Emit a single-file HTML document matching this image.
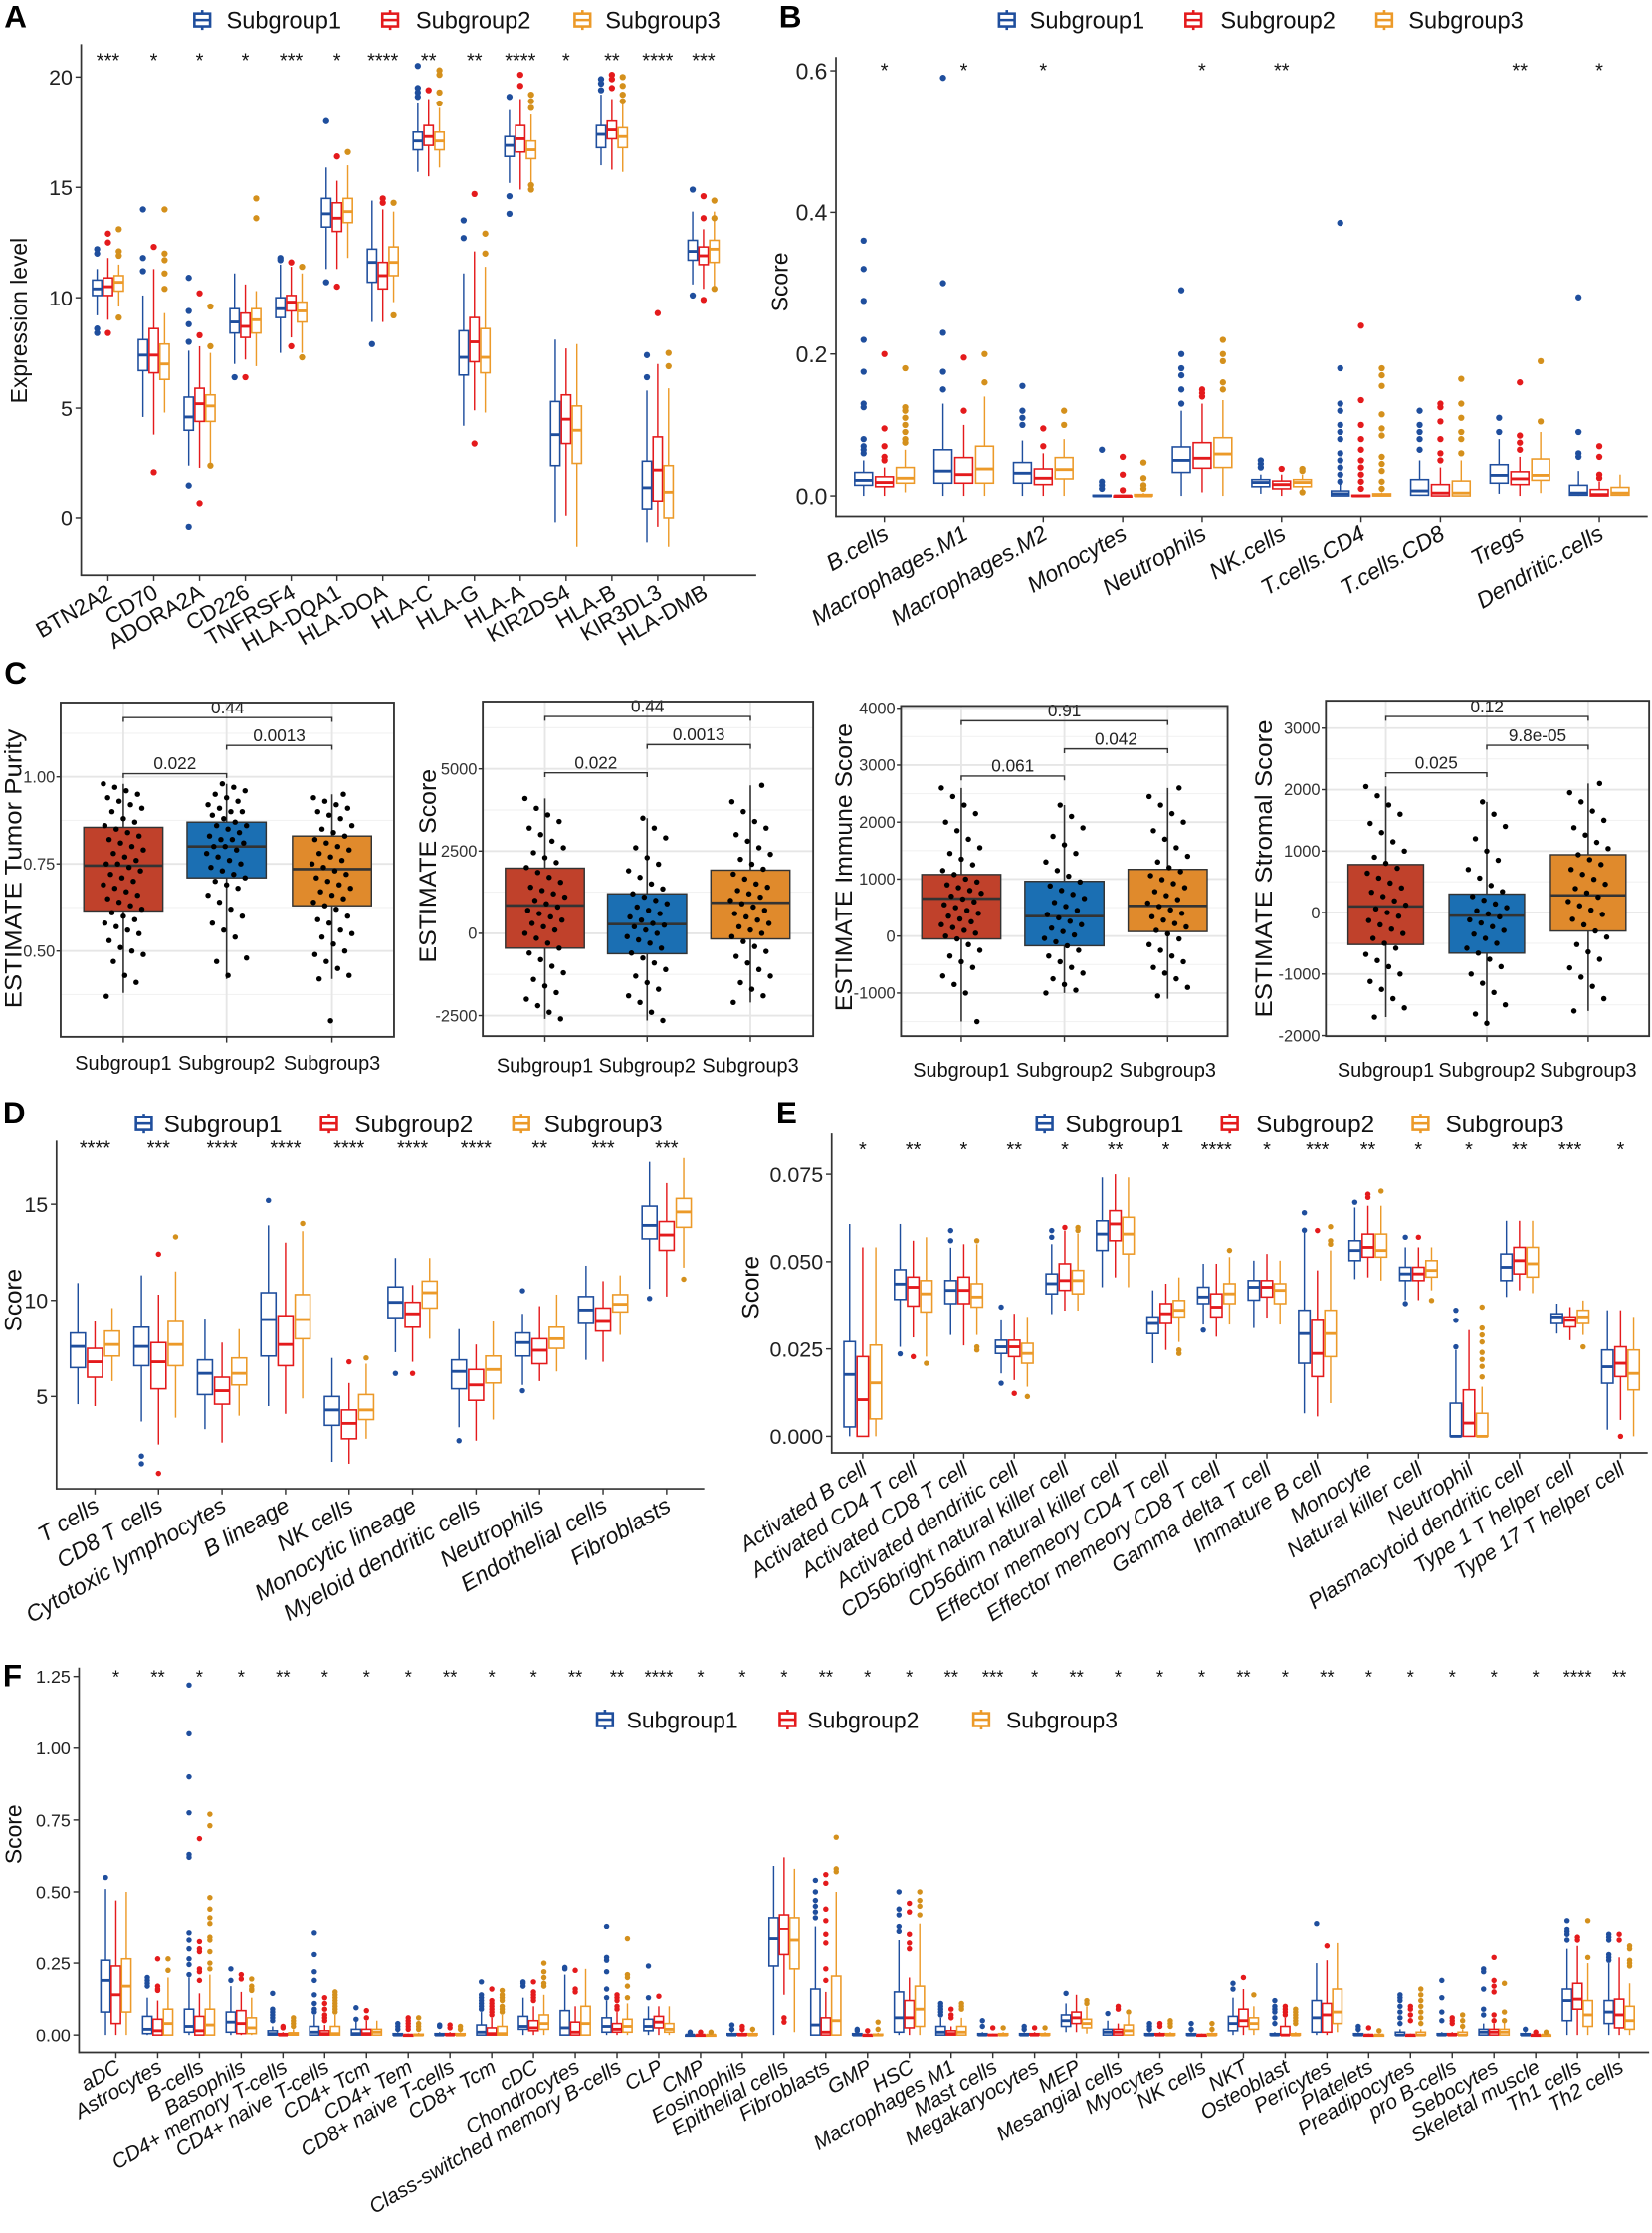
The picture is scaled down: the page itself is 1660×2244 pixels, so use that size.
<!DOCTYPE html>
<html><head><meta charset="utf-8"><title>Immune landscape of subgroups</title>
<style>
html,body{margin:0;padding:0;background:#fff;}
svg{display:block;}
text{font-family:"Liberation Sans",Arial,sans-serif;}
</style></head>
<body>
<svg id="fig" xmlns="http://www.w3.org/2000/svg" width="1660" height="2244" viewBox="0 0 1160 1568">
<rect x="0" y="0" width="1160" height="1568" fill="#fff"/>
<g font-weight="bold" font-size="22">
<text x="3" y="19">A</text>
<text x="547" y="19">B</text>
<text x="3" y="480">C</text>
<text x="2" y="789">D</text>
<text x="545" y="789">E</text>
<text x="2" y="1184">F</text>
</g>
</svg>
<script>
// ---------------- Panel A data ----------------
const A_cats=['BTN2A2','CD70','ADORA2A','CD226','TNFRSF4','HLA-DQA1','HLA-DOA','HLA-C','HLA-G','HLA-A','KIR2DS4','HLA-B','KIR3DL3','HLA-DMB'];
const A_stars=['***','*','*','*','***','*','****','**','**','****','*','**','****','***'];
const A_ticks=[0,5,10,15,20];
const A_sg1=[[9.2,10.1,10.4,10.8,11.3],[4.6,6.7,7.4,8.1,10.1],[2.4,4.0,4.6,5.5,7.6],[7.0,8.4,8.9,9.5,11.1],[7.5,9.1,9.5,10.0,11.5],[11.3,13.2,13.8,14.5,15.9],[8.9,10.7,11.6,12.2,14.4],[15.7,16.7,17.1,17.5,18.8],[4.2,6.5,7.3,8.5,11.1],[15.2,16.4,16.9,17.3,18.5],[-0.2,2.4,3.8,5.3,8.1],[16.0,16.8,17.4,17.8,19.2],[-1.1,0.4,1.4,2.6,5.8],[10.6,11.7,12.1,12.6,13.9]];
const A_out1=[[12.2,12.0,8.6,8.4],[14,11.8,11.2],[10.9,9.4,8.8,8.0,1.5,-0.4],[6.4],[11.8,11.7],[18.0,10.7],[7.9],[20.5,19.5,19.3,19.1],[13.5,12.7],[19.1,14.6,13.8],[],[19.9,19.7,19.4],[7.4,6.4],[14.9,10.1]];
const A_sg2=[[9.0,10.1,10.5,10.9,11.8],[3.8,6.6,7.4,8.6,11.3],[2.3,4.4,5.2,5.9,7.8],[7.2,8.2,8.7,9.3,10.6],[8.2,9.4,9.8,10.1,11.4],[11.3,13.0,13.6,14.3,15.3],[8.9,10.4,11.0,11.6,14.0],[15.5,16.9,17.3,17.8,19.0],[4.9,7.1,8.0,9.1,12.1],[14.9,16.6,17.2,17.8,19.0],[0.1,3.4,4.5,5.6,7.7],[15.8,17.2,17.6,18.0,19.0],[-0.4,0.8,2.2,3.7,7.0],[10.4,11.5,11.9,12.3,13.1]];
const A_out2=[[12.9,12.5,8.4],[12.3,2.1],[10.2,8.3,0.7],[6.4],[11.6,7.8],[16.4,10.5],[14.5,14.3],[19.4],[14.7,3.4],[20.1,19.6],[],[20.1,19.9,19.5],[9.3],[14.6,13.6,9.9]];
const A_sg3=[[9.6,10.3,10.7,11.0,11.5],[4.8,6.3,7.0,7.9,9.3],[2.4,4.4,5.1,5.6,7.5],[6.9,8.4,9.0,9.5,10.3],[7.5,8.9,9.4,9.8,11.1],[11.8,13.4,13.9,14.5,16.0],[9.8,11.0,11.6,12.3,13.9],[15.9,16.7,17.1,17.5,18.6],[4.8,6.6,7.3,8.6,11.4],[15.2,16.3,16.7,17.1,18.3],[-1.3,2.5,4.0,5.1,7.9],[15.7,16.8,17.3,17.7,18.9],[-1.3,0.0,1.2,2.4,5.9],[10.4,11.6,12.2,12.6,13.9]];
const A_out3=[[13.1,12.1,11.9,9.1],[14,12,11.7,11.1,10.4],[9.6,7.8,2.4],[14.5,13.6],[11.4,7.3],[16.6],[14.3,9.2],[20.3,20.1,19.3,18.8],[12.9,12.0],[19.2,18.9,18.6,15.1,14.9],[],[20.0,19.6,19.2,18.9],[7.5,6.9],[14.4,13.6,10.4]];

// ---------------- Panel B data ----------------
const B_cats=['B.cells','Macrophages.M1','Macrophages.M2','Monocytes','Neutrophils','NK.cells','T.cells.CD4','T.cells.CD8','Tregs','Dendritic.cells'];
const B_stars=['*','*','*','','*','**','','','**','*'];
const B_ticks=[0,0.2,0.4,0.6];
const B_sg1=[[0,.015,.022,.033,.05],[0,.018,.035,.065,.13],[0,.018,.032,.047,.078],[0,0,0,.001,.002],[0,.033,.05,.069,.12],[.003,.013,.019,.023,.03],[0,0,.003,.007,.018],[0,.001,.007,.023,.05],[.003,.018,.029,.044,.08],[0,.001,.004,.015,.035]];
const B_out1=[[.36,.32,.275,.22,.175,.13,.125,.08,.07,.065,.06],[.59,.3,.23,.175,.15],[.155,.12,.11,.1],[.065,.02,.015,.01],[.29,.2,.18,.17,.15,.13],[.05,.045,.04],[.385,.18,.13,.12,.1,.09,.08,.06,.05,.04,.03,.02],[.12,.1,.09,.08,.065],[.11,.09],[.28,.09,.06,.055]];
const B_sg2=[[0,.013,.019,.027,.04],[0,.018,.03,.054,.1],[0,.016,.025,.038,.06],[0,0,0,0,0],[.005,.039,.053,.075,.13],[0,.01,.016,.021,.03],[0,0,0,.001,.002],[0,0,.004,.016,.04],[0,.016,.024,.034,.055],[0,0,.002,.009,.02]];
const B_out2=[[.2,.095,.07,.055,.05],[.195,.12],[.095,.07],[.055,.03,.008],[.15,.145,.14],[.038],[.24,.135,.1,.08,.065,.05,.04,.03,.02,.01],[.13,.125,.105,.08,.06,.05],[.16,.085,.075,.065],[.07,.055,.03,.025]];
const B_sg3=[[.005,.018,.025,.04,.065],[0,.018,.038,.07,.14],[0,.024,.037,.054,.08],[0,0,0,.002,.004],[0,.04,.059,.082,.135],[.003,.013,.019,.023,.03],[0,0,.001,.003,.005],[0,0,.004,.021,.05],[.004,.022,.029,.052,.09],[0,.001,.004,.012,.03]];
const B_out3=[[.18,.125,.12,.11,.1,.09,.08,.075],[.2,.16],[.12,.1],[.047,.025,.015,.01],[.22,.2,.19,.16,.15],[.038,.035,.005],[.18,.17,.155,.115,.095,.085,.055,.045,.035,.02,.01],[.165,.13,.11,.09,.08,.06],[.19,.105],[]];

// ---------------- Panel C data ----------------
const C_groups=['Subgroup1','Subgroup2','Subgroup3'];
const C1_stats=[[.38,.615,.745,.855,.98],[.42,.71,.80,.87,.98],[.42,.63,.735,.83,.95]];
const C1_pts1=[.98,.97,.96,.95,.94,.93,.92,.91,.9,.88,.87,.86,.85,.84,.83,.82,.81,.8,.79,.78,.77,.76,.75,.75,.74,.73,.72,.71,.7,.69,.68,.67,.66,.65,.64,.63,.62,.61,.6,.59,.58,.57,.56,.55,.53,.51,.5,.49,.47,.43,.41,.37];
const C1_pts2=[.98,.97,.96,.95,.94,.93,.92,.91,.9,.9,.89,.88,.87,.86,.86,.85,.84,.83,.82,.82,.81,.8,.8,.79,.78,.77,.76,.75,.74,.73,.72,.71,.7,.69,.68,.66,.64,.62,.6,.58,.56,.54,.48,.47,.43];
const C1_pts3=[.95,.94,.93,.92,.91,.9,.89,.88,.86,.85,.84,.83,.82,.81,.8,.79,.78,.77,.76,.75,.74,.73,.72,.71,.7,.69,.68,.67,.66,.65,.64,.63,.62,.6,.59,.58,.56,.55,.54,.52,.5,.49,.47,.45,.43,.42,.30];
const C2_stats=[[-2600,-450,847,1980,4100],[-2650,-620,280,1200,3500],[-2100,-170,930,1920,4500]];
const C2_pts1=[4100,3800,3600,3400,3200,3000,2800,2600,2450,2300,2150,2000,1850,1700,1550,1400,1300,1200,1100,1000,900,800,700,600,500,400,300,200,100,0,-150,-300,-450,-600,-800,-1000,-1200,-1400,-1600,-1800,-2000,-2200,-2400,-2600];
const C2_pts2=[3500,3200,2900,2600,2300,2100,1900,1700,1500,1350,1200,1100,1000,900,800,700,600,500,400,300,250,200,100,0,-100,-200,-300,-450,-600,-750,-900,-1100,-1300,-1500,-1700,-1900,-2100,-2400,-2650];
const C2_pts3=[4500,4000,3700,3400,3200,3000,2800,2600,2400,2250,2100,1950,1800,1650,1500,1400,1300,1200,1100,1000,900,800,700,600,500,400,300,200,100,0,-100,-250,-400,-550,-700,-900,-1100,-1300,-1500,-1700,-1900,-2100];
const C3_stats=[[-1500,-50,657,1080,2600],[-1000,-170,350,960,2300],[-1100,80,530,1170,2600]];
const C3_pts1=[2600,2450,2300,2150,2000,1850,1700,1550,1450,1350,1250,1150,1080,1000,950,900,850,800,750,700,650,600,550,500,450,400,350,300,250,200,150,100,50,0,-50,-150,-250,-350,-450,-550,-700,-850,-1000,-1500];
const C3_pts2=[2300,2100,1900,1750,1600,1450,1300,1150,1050,950,880,800,730,660,590,520,450,380,320,260,200,140,80,20,-40,-100,-170,-250,-350,-450,-550,-650,-750,-850,-950,-1000];
const C3_pts3=[2600,2450,2300,2150,2000,1850,1700,1550,1400,1300,1200,1130,1060,990,920,850,780,710,640,580,520,460,400,340,280,220,160,100,40,-50,-150,-250,-350,-450,-550,-650,-750,-900,-1050];
const C4_stats=[[-1700,-520,100,780,2050],[-1800,-660,-50,300,1800],[-1600,-300,280,940,2100]];
const C4_pts1=[2050,1900,1750,1600,1450,1300,1150,1000,900,800,720,640,560,480,400,330,260,190,120,60,0,-60,-130,-200,-270,-340,-420,-500,-580,-680,-780,-880,-1000,-1120,-1250,-1400,-1550,-1700];
const C4_pts2=[1800,1600,1400,1200,1000,850,700,560,440,340,260,200,140,80,30,-20,-70,-120,-170,-230,-290,-350,-420,-500,-580,-660,-760,-880,-1000,-1150,-1300,-1500,-1650,-1800];
const C4_pts3=[2100,1950,1800,1650,1500,1380,1260,1140,1040,940,860,780,700,620,540,460,390,320,250,180,110,40,-30,-110,-200,-300,-400,-520,-640,-760,-900,-1050,-1200,-1400,-1600];

// ---------------- Panel D data ----------------
const D_cats=['T cells','CD8 T cells','Cytotoxic lymphocytes','B lineage','NK cells','Monocytic lineage','Myeloid dendritic cells','Neutrophils','Endothelial cells','Fibroblasts'];
const D_stars=['****','***','****','****','****','****','****','**','***','***'];
const D_ticks=[5,10,15];
const D_sg1=[[4.6,6.5,7.6,8.3,10.9],[3.7,6.6,7.6,8.6,11.3],[3.3,5.1,6.2,6.9,9.0],[4.5,7.1,9.0,10.4,13.9],[1.6,3.5,4.3,5.0,7.0],[7.3,9.1,9.9,10.7,12.2],[3.4,5.4,6.3,6.9,8.5],[5.6,7.1,7.8,8.3,9.3],[6.9,8.8,9.5,10.2,11.8],[10.6,13.2,13.9,14.9,17.2]];
const D_out1=[[],[1.9,1.5],[],[15.2],[],[6.2],[2.7],[10.5,5.3],[],[10.1]];
const D_sg2=[[4.5,6.0,6.8,7.5,8.9],[2.5,5.4,6.8,7.8,10.3],[2.6,4.6,5.3,6.0,7.8],[4.1,6.6,7.7,9.2,13.0],[1.5,2.8,3.6,4.3,5.7],[6.8,8.6,9.3,9.9,10.8],[2.7,4.8,5.6,6.4,7.7],[5.8,6.7,7.4,8.0,9.7],[6.8,8.4,8.9,9.6,11.0],[10.2,12.6,13.4,14.1,16.1]];
const D_out2=[[],[12.4,1.0],[],[],[6.8],[6.2],[],[],[],[]];
const D_sg3=[[5.8,7.1,7.7,8.4,9.6],[3.9,6.6,7.7,8.9,11.5],[4.0,5.6,6.2,7.0,8.5],[4.9,8.0,9.0,10.3,13.6],[2.8,3.8,4.3,5.1,6.7],[8.0,9.6,10.4,11.0,12.2],[3.8,5.7,6.4,7.1,8.9],[6.3,7.5,8.0,8.6,10.3],[8.2,9.4,9.8,10.3,11.3],[11.7,13.8,14.6,15.3,17.4]];
const D_out3=[[],[13.3],[],[14.0],[7.0],[],[],[],[],[11.1]];

// ---------------- Panel E data ----------------
const E_cats=['Activated B cell','Activated CD4 T cell','Activated CD8 T cell','Activated dendritic cell','CD56bright natural killer cell','CD56dim natural killer cell','Effector memeory CD4 T cell','Effector memeory CD8 T cell','Gamma delta T cell','Immature  B cell','Monocyte','Natural killer cell','Neutrophil','Plasmacytoid dendritic cell','Type 1 T helper cell','Type 17 T helper cell'];
const E_stars=['*','**','*','**','*','**','*','****','*','***','**','*','*','**','***','*'];
const E_ticks=[0,0.025,0.05,0.075];
const E_sg1=[[0,.0027,.0177,.0271,.0608],[.0256,.0392,.0436,.0477,.0608],[.029,.038,.0418,.0446,.054],[.018,.0237,.0256,.0275,.0332],[.035,.0408,.0437,.0465,.055],[.0427,.0532,.0579,.0617,.0741],[.0209,.0294,.0323,.0342,.0418],[.032,.038,.0399,.0427,.0494],[.031,.039,.0427,.0446,.0503],[.0066,.0209,.0294,.0361,.059],[.045,.0503,.0532,.056,.0655],[.039,.0446,.0465,.0484,.0541],[0,0,0,.0095,.0247],[.0399,.0446,.0484,.0522,.0617],[.0294,.0323,.0342,.0351,.038],[.0019,.0152,.0199,.0247,.0361]];
const E_out1=[[],[.0236],[.0589,.056],[.037,.0152],[.0589,.057],[],[],[.0304],[],[.064,.059],[.067],[.057,.038],[.0361,.0332,.0256],[],[],[]];
const E_sg2=[[0,0,.0105,.0228,.0541],[.0283,.0373,.0427,.0456,.056],[.026,.038,.0418,.0456,.055],[.0161,.0228,.0256,.0275,.0351],[.036,.0418,.0446,.0494,.0589],[.0455,.056,.0608,.0646,.075],[.0247,.0323,.0351,.038,.0437],[.0285,.0342,.037,.0408,.0494],[.034,.0399,.0427,.0446,.0522],[.0057,.0171,.0237,.0332,.0475],[.0455,.0513,.0541,.0579,.066],[.039,.0446,.0465,.0484,.0541],[0,0,.0038,.0133,.0304],[.0418,.0465,.0503,.0541,.0617],[.0275,.0313,.0332,.0342,.037],[.0047,.0171,.0209,.0256,.0361]];
const E_out2=[[],[.0228],[],[.0123],[.0598],[],[],[],[],[.0589],[.0693,.0684],[.057],[],[],[],[0]];
const E_sg3=[[0,.005,.0153,.0261,.0541],[.0228,.0356,.0408,.0446,.057],[.029,.037,.0399,.0437,.055],[.0142,.0209,.0237,.0266,.0342],[.036,.0408,.0446,.0475,.058],[.0427,.0522,.0579,.0627,.0741],[.027,.0342,.0361,.0389,.0455],[.032,.038,.0408,.0437,.0513],[.032,.038,.0418,.0437,.0503],[.0095,.0228,.0294,.0361,.0532],[.0446,.0513,.0532,.0579,.066],[.0418,.0456,.0475,.0503,.0541],[0,0,0,.0066,.0142],[.041,.0456,.0494,.0541,.0617],[.029,.0323,.0342,.0361,.0389],[0,.0133,.018,.0247,.0342]];
const E_out3=[[],[.0209],[.056,.0256,.0247],[.0114],[.0598,.0589],[],[.0247,.0237],[.0532],[],[.06,.056,.055],[.0702],[.0389],[.037,.031,.029,.027,.024,.022,.02,.017],[],[.0256],[]];

// ---------------- Panel F data ----------------
const F_cats=['aDC','Astrocytes','B-cells','Basophils','CD4+ memory T-cells','CD4+ naive T-cells','CD4+ Tcm','CD4+ Tem','CD8+ naive T-cells','CD8+ Tcm','cDC','Chondrocytes','Class-switched memory B-cells','CLP','CMP','Eosinophils','Epithelial cells','Fibroblasts','GMP','HSC','Macrophages M1','Mast cells','Megakaryocytes','MEP','Mesangial cells','Myocytes','NK cells','NKT','Osteoblast','Pericytes','Platelets','Preadipocytes','pro B-cells','Sebocytes','Skeletal muscle','Th1 cells','Th2 cells'];
const F_stars=['*','**','*','*','**','*','*','*','**','*','*','**','**','****','*','*','*','**','*','*','**','***','*','**','*','*','*','**','*','**','*','*','*','*','*','****','**'];
const F_ticks=[0,0.25,0.5,0.75,1.0,1.25];
const F_sg1=[[0,.08,.19,.26,.51],[0,.005,.02,.065,.13],[0,.01,.03,.09,.2],[0,.01,.045,.08,.17],[0,0,.005,.015,.03],[0,0,.01,.03,.07],[0,0,.005,.02,.05],[0,0,0,.005,.01],[0,0,0,.005,.01],[0,0,.01,.035,.08],[0,.02,.03,.065,.13],[0,0,.025,.085,.21],[0,.01,.03,.06,.12],[0,.015,.03,.055,.1],[0,0,0,0,0],[0,0,0,.005,.01],[0,.24,.335,.41,.59],[0,0,.035,.16,.38],[0,0,0,.005,.01],[0,.01,.06,.15,.33],[0,0,.01,.03,.06],[0,0,0,.005,.01],[0,0,0,.005,.01],[.01,.03,.05,.07,.11],[0,0,.01,.02,.05],[0,0,0,.005,.01],[0,0,0,.005,.01],[0,.015,.04,.065,.13],[0,0,0,.005,.01],[0,.01,.06,.12,.25],[0,0,0,.005,.01],[0,0,0,.01,.02],[0,0,0,.005,.01],[0,0,.01,.02,.04],[0,0,0,.005,.01],[0,.05,.12,.16,.3],[0,.04,.08,.12,.25]];
const F_out1=[[.55],[.2,.19,.18,.17],[1.22,1.05,.9,.775,.63,.62,.355,.33,.3,.265,.245,.21],[.23,.19],[.145,.09,.08,.07,.06,.05],[.355,.28,.22,.19,.14,.11,.09,.08],[.095,.055],[.04,.03,.02],[.035,.03],[.185,.14,.13,.12,.11,.1,.09],[.185,.18,.17],[.235,.23],[.38,.27,.26,.22,.16,.13],[.24,.13],[.01,.005],[.035,.02],[],[.54,.5,.47,.45,.43,.41],[.02,.015],[.5,.44,.42,.38,.36],[.11,.1,.09,.08,.07],[.05,.03],[.03,.02],[.145],[.075],[.04,.03,.02],[.04,.02],[.18,.16],[.12,.1,.09,.08,.06,.04],[.39],[.03,.02],[.14,.13,.12,.1,.08,.06,.04],[.19,.13,.08,.05],[.23,.22,.16,.09,.07],[.02],[.4,.37,.36,.35,.33],[.35,.34,.33,.28,.27,.26]];
const F_sg2=[[0,.04,.14,.24,.47],[0,0,.015,.055,.12],[0,0,.015,.065,.145],[0,.005,.04,.085,.15],[0,0,0,.005,.01],[0,0,.005,.015,.035],[0,0,.005,.02,.05],[0,0,0,0,.005],[0,0,0,.005,.01],[0,0,.005,.025,.06],[0,.015,.025,.05,.1],[0,0,.01,.045,.1],[0,.01,.02,.04,.08],[0,.025,.045,.065,.1],[0,0,0,0,0],[0,0,0,.005,.01],[.14,.28,.37,.42,.62],[0,0,.01,.06,.15],[0,0,0,0,.005],[0,.025,.06,.12,.2],[0,0,.005,.015,.03],[0,0,0,.002,.005],[0,0,0,.005,.01],[.01,.04,.06,.08,.14],[0,0,.01,.02,.04],[0,0,0,.005,.01],[0,0,0,0,.005],[0,.03,.05,.09,.16],[0,0,0,.03,.06],[0,.01,.07,.11,.26],[0,0,0,0,.005],[0,0,0,0,.005],[0,0,0,.005,.01],[0,0,.01,.02,.04],[0,0,0,0,.005],[0,.09,.125,.18,.31],[0,.025,.07,.125,.27]];
const F_out2=[[],[.265,.17,.16,.155],[.685,.325,.3,.29,.23,.22,.19],[.21,.195],[.03,.025],[.13,.11,.09,.07,.06,.05],[.085,.06],[.06,.05,.04,.03,.02],[.035,.025],[.16,.12,.11,.1,.09,.08,.07],[.185,.15,.14,.13,.12],[.225,.16,.15],[.14,.13,.12,.1,.09],[.135],[.01],[.03,.02],[.06,.045],[.56,.53,.44,.4,.35,.32,.23,.19],[.015],[.46,.43,.35,.32,.3],[.09,.07,.06],[.025],[.025],[],[.1,.09],[.04,.03],[],[.2],[.1,.09,.08,.07],[.31],[.025],[.1,.09,.07,.05],[.06,.05,.04],[.27,.19,.17,.15,.07,.05],[.01],[.34,.33],[.35,.33]];
const F_sg3=[[0,.08,.17,.265,.5],[0,0,.04,.09,.2],[0,0,.035,.09,.21],[0,.005,.025,.06,.13],[0,0,.002,.008,.02],[0,0,.005,.03,.07],[0,0,.01,.02,.05],[0,0,0,.003,.008],[0,0,0,.005,.01],[0,0,.005,.03,.07],[0,.02,.04,.07,.14],[0,0,.04,.1,.23],[0,.01,.03,.055,.11],[0,.01,.02,.04,.1],[0,0,0,0,0],[0,0,0,.005,.01],[.01,.23,.33,.41,.58],[0,0,.05,.205,.5],[0,0,0,.003,.008],[0,.03,.09,.17,.39],[0,0,.01,.03,.06],[0,0,0,.005,.01],[0,0,0,.005,.01],[.005,.025,.04,.055,.1],[0,0,.015,.035,.07],[0,0,0,.005,.01],[0,0,0,.005,.01],[0,.02,.04,.06,.1],[0,0,0,.005,.01],[.01,.04,.08,.16,.32],[0,0,0,0,.005],[0,0,0,.01,.02],[0,0,0,.01,.02],[0,0,.01,.02,.05],[0,0,0,0,.005],[0,.03,.07,.12,.25],[0,.02,.05,.1,.18]];
const F_out3=[[],[.265,.225],[.77,.73,.48,.44,.41,.39,.34,.33,.29,.25,.23],[.195,.17,.16,.155],[.06,.05,.04,.03],[.15,.14,.13,.12,.11,.1,.09,.08],[],[.06,.04,.03,.02],[.03,.02],[.155,.14,.13,.12,.1,.09,.08],[.25,.22,.2,.18,.17],[],[.335,.21,.2,.17,.13],[],[.01],[.02],[],[.69,.58,.57],[.045,.02],[.5,.47,.45,.42],[.11,.1,.09],[.025],[.025],[.12,.11],[.08],[.05,.04,.03],[.04,.02],[.14],[.09,.08,.07,.06,.05,.04],[],[.015],[.16,.14,.12,.1,.08,.06,.04],[.07,.05,.03],[.18,.08,.05],[.01],[.4,.27],[.31,.3,.26,.25,.24]];

// ---------------- rendering ----------------
const NS='http://www.w3.org/2000/svg';
const svg=document.getElementById('fig');
const COL=['#1f4e9d','#e41a1c','#ec9a29'];
const OUTCOL=['#1f4e9d','#e41a1c','#d4901c'];
function mk(tag,attrs,parent){const e=document.createElementNS(NS,tag);for(const k in attrs)e.setAttribute(k,attrs[k]);(parent||svg).appendChild(e);return e;}
function lin(a,b){const k=(b[1]-a[1])/(b[0]-a[0]);return v=>a[1]+(v-a[0])*k;}

function legend(P){
  const g=mk('g',{});
  
  
  for(let s=0;s<3;s++){
    const ix=P.icons[s], y=P.y;
    const ic=mk('g',{stroke:COL[s],'stroke-width':1.8,fill:'none'},g);
    
    
    mk('rect',{x:ix-5.5,y:y-4.5,width:11,height:9},ic);
    mk('line',{x1:ix-5.5,x2:ix+5.5,y1:y,y2:y},ic);
    mk('line',{x1:ix,x2:ix,y1:y-7,y2:y-4.5},ic);
    mk('line',{x1:ix,x2:ix,y1:y+4.5,y2:y+7},ic);
    const t=mk('text',{x:P.texts[s],y:y+P.fs*0.36,'font-size':P.fs,fill:'#111'},g);
    t.textContent='Subgroup'+(s+1);
    
    
  }
}

function boxPanel(P){
  const g=mk('g',{});
  
  
  const y=lin(P.a1,P.a2);
  const xc=i=>P.x0+i*(P.xN-P.x0)/(P.cats.length-1);
  const ya=mk('line',{x1:P.left,x2:P.left,y1:P.top,y2:P.bottom+0.5,stroke:'#333','stroke-width':1.2},g);
  
  
  const xa=mk('line',{x1:P.left-0.5,x2:P.right,y1:P.bottom,y2:P.bottom,stroke:'#333','stroke-width':1.2},g);
  
  
  P.ticks.forEach(v=>{
    const tk=mk('line',{x1:P.left-4,x2:P.left,y1:y(v),y2:y(v),stroke:'#333','stroke-width':1},g);
    
    
    const t=mk('text',{x:P.left-6,y:y(v)+P.tfs*0.36,'font-size':P.tfs,'text-anchor':'end',fill:'#222'},g);
    t.textContent=v.toFixed(P.dec);
    
    
  });
  const yt=mk('text',{x:P.ytx,y:P.yty,'font-size':P.ytfs,'text-anchor':'middle',fill:'#111',transform:'rotate(-90 '+P.ytx+' '+P.yty+')'},g);
  yt.textContent=P.ytitle;
  
  
  const stats=[P.s1,P.s2,P.s3], outs=[P.o1,P.o2,P.o3];
  P.cats.forEach((c,i)=>{
    const cx=xc(i);
    const tk=mk('line',{x1:cx,x2:cx,y1:P.bottom,y2:P.bottom+4,stroke:'#333','stroke-width':1},g);
    
    
    const lx=cx+P.lxo, ly=P.bottom+P.lyo;
    const lt=mk('text',{x:lx,y:ly,'font-size':P.lfs,'text-anchor':'end',fill:'#111','font-style':P.italic?'italic':'normal',transform:'rotate(-'+P.rot+' '+lx+' '+ly+')'},g);
    lt.textContent=c;
    
    
    if(P.stars[i]){
      const st=mk('text',{x:cx,y:P.starY,'font-size':P.sfs,'text-anchor':'middle',fill:'#111'},g);
      st.textContent=P.stars[i];
      
      
    }
    for(let s=0;s<3;s++){
      const b=stats[s][i]; const bx=cx+(s-1)*P.off;
      const bg=mk('g',{stroke:COL[s],fill:'#fff'},g);
      
      
      mk('line',{x1:bx,x2:bx,y1:y(b[0]),y2:y(b[4]),'stroke-width':1},bg);
      const h=Math.max(y(b[1])-y(b[3]),0.8);
      mk('rect',{x:bx-P.bw/2,y:y(b[3]),width:P.bw,height:h,'stroke-width':1.1},bg);
      mk('line',{x1:bx-P.bw/2,x2:bx+P.bw/2,y1:y(b[2]),y2:y(b[2]),'stroke-width':2},bg);
      outs[s][i].forEach(v=>{
        const o=mk('circle',{cx:bx,cy:y(v),r:P.r,fill:OUTCOL[s],stroke:'none'},g);
        
        
      });
    }
  });
}

function cPanel(P){
  const g=mk('g',{});
  
  
  const y=lin(P.a1,P.a2);
  const F=P.frame;
  P.minor.forEach(v=>{
    const l=mk('line',{x1:F.l,x2:F.r,y1:y(v),y2:y(v),stroke:'#f2f2f2','stroke-width':0.8},g);
    
    
  });
  P.ticks.forEach(v=>{
    const l=mk('line',{x1:F.l,x2:F.r,y1:y(v),y2:y(v),stroke:'#e6e6e6','stroke-width':1.3},g);
    
    
    const tk=mk('line',{x1:F.l-3,x2:F.l,y1:y(v),y2:y(v),stroke:'#333','stroke-width':1},g);
    
    
    const t=mk('text',{x:F.l-4,y:y(v)+4,'font-size':11.5,'text-anchor':'end',fill:'#333'},g);
    t.textContent=P.fmt(v);
    
    
  });
  P.cx.forEach(x=>{
    const l=mk('line',{x1:x,x2:x,y1:F.t,y2:F.b,stroke:'#e6e6e6','stroke-width':1.3},g);
    
    
  });
  const pts=[P.p1,P.p2,P.p3];
  for(let s=0;s<3;s++){
    const b=P.stats[s], x=P.cx[s];
    const bg=mk('g',{stroke:'#333'},g);
    
    
    mk('line',{x1:x,x2:x,y1:y(b[0]),y2:y(b[4]),'stroke-width':1.1},bg);
    mk('rect',{x:x-P.bw/2,y:y(b[3]),width:P.bw,height:y(b[1])-y(b[3]),fill:P.fills[s],'stroke-width':1},bg);
    mk('line',{x1:x-P.bw/2,x2:x+P.bw/2,y1:y(b[2]),y2:y(b[2]),'stroke-width':1.8},bg);
    pts[s].forEach((v,i)=>{
      const jx=((((i*37+s*11)%29)/28)-0.5)*28;
      const c=mk('circle',{cx:x+jx,cy:y(v),r:1.9,fill:'#000'},g);
      
      
    });
    const tk=mk('line',{x1:x,x2:x,y1:F.b,y2:F.b+4,stroke:'#333','stroke-width':1},g);
    
    
    const lt=mk('text',{x:x,y:P.ly,'font-size':14,'text-anchor':'middle',fill:'#111',textLength:68,lengthAdjust:'spacingAndGlyphs'},g);
    lt.textContent=C_groups[s];
    
    
  }
  P.brackets.forEach(br=>{
    const x1=P.cx[br[0]], x2=P.cx[br[1]], by=y(br[2]);
    const p=mk('path',{d:'M'+x1+' '+(by+3)+'V'+by+'H'+x2+'V'+(by+3),fill:'none',stroke:'#333','stroke-width':1},g);
    
    
    const t=mk('text',{x:(x1+x2)/2,y:by-3,'font-size':12,'text-anchor':'middle',fill:'#222'},g);
    t.textContent=br[3];
    
    
  });
  const fr=mk('rect',{x:F.l,y:F.t,width:F.r-F.l,height:F.b-F.t,fill:'none',stroke:'#333','stroke-width':1.3},g);
  
  
  const yt=mk('text',{x:P.tx,y:P.ty,'font-size':17,'text-anchor':'middle',fill:'#111',textLength:P.tl,lengthAdjust:'spacingAndGlyphs',transform:'rotate(-90 '+P.tx+' '+P.ty+')'},g);
  yt.textContent=P.title;
  
  
}

// Panel A
legend({name:'legend-a',y:14,icons:[142,274,409],texts:[159,292,425],fs:16.5});
boxPanel({name:'panel-a-immune-checkpoints',cats:A_cats,stars:A_stars,ticks:A_ticks,dec:0,s1:A_sg1,s2:A_sg2,s3:A_sg3,o1:A_out1,o2:A_out2,o3:A_out3,
  a1:[20,54],a2:[0,364],x0:75.8,xN:494,left:57,right:531,top:31,bottom:404,off:7.6,bw:6.5,r:2.2,
  tfs:15,ytitle:'Expression level',ytx:19,yty:225,ytfs:16,starY:47,sfs:14,lfs:15.5,rot:30,lxo:4,lyo:15,italic:false});
// Panel B
legend({name:'legend-b',y:14,icons:[707,838,972],texts:[723,857,989],fs:16.5});
boxPanel({name:'panel-b-immune-cells',cats:B_cats,stars:B_stars,ticks:B_ticks,dec:1,s1:B_sg1,s2:B_sg2,s3:B_sg3,o1:B_out1,o2:B_out2,o3:B_out3,
  a1:[0.6,49.6],a2:[0,348],x0:621,xN:1123,left:587,right:1157,top:40,bottom:363,off:14.6,bw:12.5,r:2.2,
  tfs:16,ytitle:'Score',ytx:553,yty:198,ytfs:16,starY:54,sfs:14,lfs:16,rot:30,lxo:4,lyo:15,italic:true});
// Panel C
cPanel({name:'panel-c-tumor-purity',frame:{l:42.6,r:276.7,t:493.3,b:728},a1:[1.0,545.5],a2:[0.5,667.8],cx:[86.6,159.1,233.1],bw:55.5,
  ticks:[0.5,0.75,1.0],minor:[0.375,0.625,0.875,1.125],fmt:v=>v.toFixed(2),stats:C1_stats,p1:C1_pts1,p2:C1_pts2,p3:C1_pts3,
  fills:['#c0412b','#1b6fb3','#e08a2c'],brackets:[[0,2,1.17,'0.44'],[1,2,1.09,'0.0013'],[0,1,1.009,'0.022']],
  title:'ESTIMATE Tumor Purity',tx:15,ty:610,tl:196,ly:751});
cPanel({name:'panel-c-estimate-score',frame:{l:339,r:571,t:492.6,b:727.5},a1:[5000,539.9],a2:[-2500,713.1],cx:[382.6,454.4,526.9],bw:55.5,
  ticks:[-2500,0,2500,5000],minor:[-1250,1250,3750,6250],fmt:v=>String(v),stats:C2_stats,p1:C2_pts1,p2:C2_pts2,p3:C2_pts3,
  fills:['#c0412b','#1b6fb3','#e08a2c'],brackets:[[0,2,6593,'0.44'],[1,2,5736,'0.0013'],[0,1,4879,'0.022']],
  title:'ESTIMATE Score',tx:306,ty:608,tl:136,ly:753});
cPanel({name:'panel-c-immune-score',frame:{l:632.7,r:862,t:495.7,b:727.5},a1:[4000,497.3],a2:[-1000,697.3],cx:[675,747.4,819.9],bw:55.5,
  ticks:[-1000,0,1000,2000,3000,4000],minor:[-1500,-500,500,1500,2500,3500],fmt:v=>String(v),stats:C3_stats,p1:C3_pts1,p2:C3_pts2,p3:C3_pts3,
  fills:['#c0412b','#1b6fb3','#e08a2c'],brackets:[[0,2,3779,'0.91'],[1,2,3285,'0.042'],[0,1,2808,'0.061']],
  title:'ESTIMATE Immune Score',tx:598,ty:609,tl:202,ly:756});
cPanel({name:'panel-c-stromal-score',frame:{l:931,r:1158,t:492,b:727.5},a1:[3000,511.3],a2:[-2000,727.1],cx:[973.1,1044,1115.2],bw:53,
  ticks:[-2000,-1000,0,1000,2000,3000],minor:[-1500,-500,500,1500,2500],fmt:v=>String(v),stats:C4_stats,p1:C4_pts1,p2:C4_pts2,p3:C4_pts3,
  fills:['#c0412b','#1b6fb3','#e08a2c'],brackets:[[0,2,3189,'0.12'],[1,2,2720,'9.8e-05'],[0,1,2272,'0.025']],
  title:'ESTIMATE Stromal Score',tx:893,ty:610,tl:209,ly:756});
// Panel D
legend({name:'legend-d',y:789,icons:[101,231,366],texts:[115,249,382],fs:17});
boxPanel({name:'panel-d-mcp-counter',cats:D_cats,stars:D_stars,ticks:D_ticks,dec:0,s1:D_sg1,s2:D_sg2,s3:D_sg3,o1:D_out1,o2:D_out2,o3:D_out3,
  a1:[15,845.6],a2:[5,980.6],x0:66.7,xN:468.1,left:39.7,right:494.5,top:801,bottom:1045.4,off:12,bw:10.5,r:1.9,
  tfs:15,ytitle:'Score',ytx:15,yty:913,ytfs:17,starY:811,sfs:14,lfs:16,rot:30,lxo:4,lyo:15,italic:true});
// Panel E
legend({name:'legend-e',y:789,icons:[733.5,863.5,997.5],texts:[748,882,1015],fs:17});
boxPanel({name:'panel-e-ssgsea',cats:E_cats,stars:E_stars,ticks:E_ticks,dec:3,s1:E_sg1,s2:E_sg2,s3:E_sg3,o1:E_out1,o2:E_out2,o3:E_out3,
  a1:[0.075,824.6],a2:[0,1008.6],x0:605.8,xN:1137.9,left:584,right:1157,top:796,bottom:1020.2,off:9.2,bw:8,r:1.9,
  tfs:15,ytitle:'Score',ytx:533,yty:904,ytfs:17,starY:812,sfs:14,lfs:15,rot:33,lxo:4,lyo:14,italic:true});
// Panel F
legend({name:'legend-f',y:1207.5,icons:[424.8,553,689],texts:[440,567,706.5],fs:16});
boxPanel({name:'panel-f-xcell',cats:F_cats,stars:F_stars,ticks:F_ticks,dec:2,s1:F_sg1,s2:F_sg2,s3:F_sg3,o1:F_out1,o2:F_out2,o3:F_out3,
  a1:[1.25,1177.2],a2:[0,1429.1],x0:81.4,xN:1137,left:55.5,right:1158,top:1171,bottom:1441.2,off:7.3,bw:6.5,r:1.9,
  tfs:12.5,ytitle:'Score',ytx:15,yty:1288,ytfs:16,starY:1182,sfs:13,lfs:14.5,rot:30,lxo:4,lyo:13,italic:true});
</script>
</body></html>
